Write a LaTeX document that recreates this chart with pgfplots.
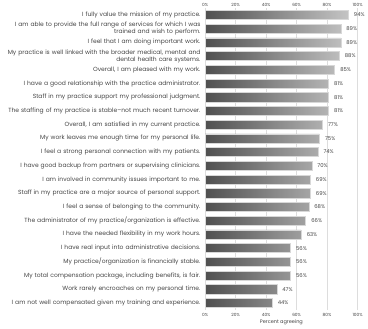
\documentclass[border=0pt]{standalone}
\usepackage{pgfplots}
\pgfplotsset{compat=1.18}
\usepackage{fontspec}
\setmainfont{Poppins}
\definecolor{gridc}{HTML}{DDDDDD}
\definecolor{txt}{HTML}{444444}
\definecolor{barl}{HTML}{505050}
\definecolor{barr}{HTML}{C4C4C4}
\definecolor{bord}{HTML}{D8D8D8}
\begin{document}
\begin{tikzpicture}
\pgfplotsset{
  common/.style={
    width=152bp, height=301bp, scale only axis,
    xmin=0, xmax=100, ymin=0.5, ymax=22.5,
    xtick={0,20,40,60,80,100},
    xticklabel={\pgfmathprintnumber{\tick}\%},
    /pgf/number format/assume math mode=true,
    tick label style={font=\fontsize{4.3}{5}\selectfont, text=txt},
    axis line style={draw=none},
    major tick length=0pt,
  }
}
\begin{axis}[common,
  xticklabel pos=lower,
  xlabel={Percent agreeing},
  xlabel style={font=\fontsize{5}{6}\selectfont, text=txt, yshift=3.5pt},
  xmajorgrids, grid style={gridc, line width=0.6pt},
  xbar, bar width=0.66,
  ytick={1,...,22},
  yticklabels={
    I am not well compensated given my training and experience.,
    Work rarely encroaches on my personal time.,
    {My total compensation package, including benefits, is fair.},
    My practice/organization is financially stable.,
    I have real input into administrative decisions.,
    I have the needed flexibility in my work hours.,
    The administrator of my practice/organization is effective.,
    I feel a sense of belonging to the community.,
    Staff in my practice are a major source of personal support.,
    I am involved in community issues important to me.,
    I have good backup from partners or supervising clinicians.,
    I feel a strong personal connection with my patients.,
    My work leaves me enough time for my personal life.,
    {Overall, I am satisfied in my current practice.},
    The staffing of my practice is stable--not much recent turnover.,
    Staff in my practice support my professional judgment.,
    I have a good relationship with the practice administrator.,
    {Overall, I am pleased with my work.},
    {My practice is well linked with the broader medical, mental and\\dental health care systems.},
    I feel that I am doing important work.,
    I am able to provide the full range of services for which I was\\trained and wish to perform.,
    I fully value the mission of my practice.
  },
  yticklabel style={font=\fontsize{6}{7}\selectfont, text=txt, align=right, text width=200bp, inner sep=0pt, xshift=-4.5bp},
  nodes near coords={\pgfmathprintnumber{\pgfplotspointmeta}\%},
  point meta=x,
  nodes near coords style={font=\fontsize{5.3}{6}\selectfont, text=txt, anchor=west, xshift=2pt},
  clip=false,
]
\addplot[draw=bord, line width=0.5pt, left color=barl, right color=barr] coordinates {
(44,1) (47,2) (56,3) (56,4) (56,5) (63,6) (66,7) (68,8) (69,9) (69,10) (70,11)
(74,12) (75,13) (77,14) (81,15) (81,16) (81,17) (85,18) (88,19) (89,20) (89,21) (94,22)
};
\end{axis}
\begin{axis}[common,
  xticklabel pos=upper,
  ytick=\empty,
  xticklabel style={yshift=-2pt},
]
\addplot[draw=none] coordinates {(0,1)};
\end{axis}
\end{tikzpicture}
\end{document}
